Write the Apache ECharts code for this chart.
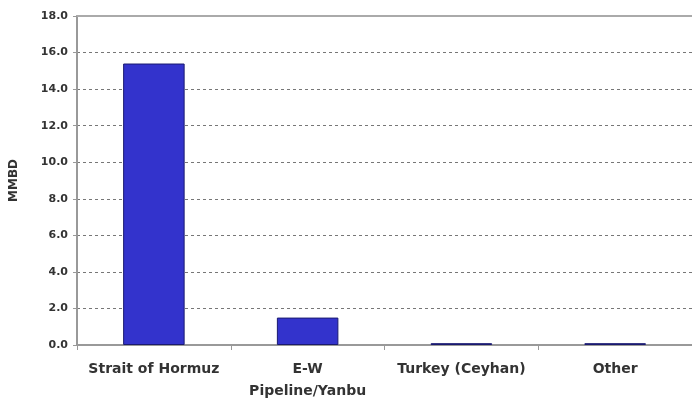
<!DOCTYPE html>
<html><head><meta charset="utf-8">
<script src="https://cdn.jsdelivr.net/npm/echarts@6/dist/echarts.min.js"></script>
<style>html,body{margin:0;padding:0;background:#fff}#c{width:692px;height:403px}</style>
</head><body><div id="c"></div>
<script>
const categories = ["Strait of Hormuz", "E-W\nPipeline/Yanbu", "Turkey (Ceyhan)", "Other"];
const values = [15.4, 1.5, 0.1, 0.1];
const yTicks = { min: 0, max: 18, interval: 2 };
const yName = "MMBD";

const chart = echarts.init(document.getElementById('c'));
chart.setOption({
  animation: false,
  textStyle: { fontFamily: 'DejaVu Sans, sans-serif' },
  grid: { left: 77, right: -6, top: 16, bottom: 58, containLabel: false },
  xAxis: [{
    type: 'category', data: categories,
    axisLine: { lineStyle: { color: '#999', width: 2 } },
    axisTick: { show: true, interval: 0, length: 5, lineStyle: { color: '#999' } },
    axisLabel: { interval: 0, hideOverlap: false, color: '#333', fontWeight: 'bold', fontSize: 14, margin: 13, lineHeight: 22 }
  }, {
    type: 'category', data: categories, position: 'top',
    axisLine: { show: true, lineStyle: { color: '#aaa', width: 2 } },
    axisTick: { show: false }, axisLabel: { show: false }
  }],
  yAxis: {
    type: 'value', min: yTicks.min, max: yTicks.max, interval: yTicks.interval,
    name: yName, nameLocation: 'middle', nameGap: 57, nameRotate: 90,
    nameTextStyle: { color: '#333', fontWeight: 'bold', fontSize: 12 },
    axisLine: { show: true, lineStyle: { color: '#999', width: 2 } },
    axisTick: { show: true, length: 4, lineStyle: { color: '#999' } },
    axisLabel: { color: '#333', fontWeight: 'bold', fontSize: 11, margin: 9,
      formatter: v => v.toFixed(1) },
    splitLine: { show: true, lineStyle: { color: '#777', type: [3, 3], width: 1 } }
  },
  series: [{
    type: 'bar', data: values, barWidth: '40%', xAxisIndex: 0,
    itemStyle: { color: '#3333cc', borderColor: '#1a1a70', borderWidth: 1 }
  }]
});
</script></body></html>
